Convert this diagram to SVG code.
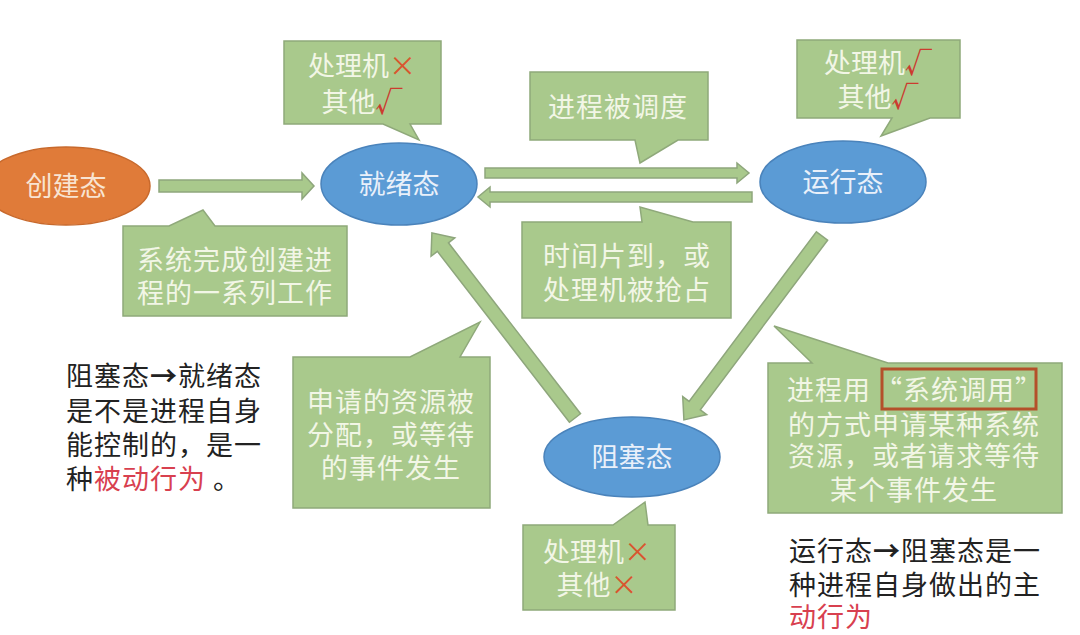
<svg xmlns="http://www.w3.org/2000/svg" width="1080" height="635" viewBox="0 0 1080 635">
<style>
  text { font-family: "Noto Sans CJK SC", "Noto Sans", sans-serif; }
  .box { fill: #a9c98c; stroke: #8fa97a; stroke-width: 1.5; }
  .arr { fill: #a9c98c; stroke: #8ea67c; stroke-width: 1.5; }
  .bt { fill: #f2f6e6; font-size: 27px; text-anchor: middle; }
  .st { fill: #e9f0fa; font-size: 27px; text-anchor: middle; }
  .blk { fill: #222222; font-size: 27px; }
  .red { fill: #cc3b2f; font-weight: bold; }
  .x { fill: #d9552e; }
  .pink { fill: #d8404f; }
</style>
<rect width="1080" height="635" fill="#ffffff"/>

<g id="connectors">
  <polygon class="arr" points="159,180 302,180 302,173 314,186 302,199 302,192 159,192"/>
  <polygon class="arr" points="485,168 737,168 737,163 749,173 737,183 737,178 485,178"/>
  <polygon class="arr" points="752,192 490,192 490,187 478,197 490,207 490,202 752,202"/>
  <g transform="translate(822,236) rotate(126.9)">
    <polygon class="arr" points="0,-7 212,-7 212,-15 230,0 212,15 212,7 0,7"/>
  </g>
  <g transform="translate(575,418) rotate(-127.7)">
    <polygon class="arr" points="0,-7 216,-7 216,-15 234,0 216,15 216,7 0,7"/>
  </g>
</g>

<g id="create">
  <ellipse cx="66" cy="186" rx="84" ry="39" fill="#e07b39" stroke="#c8692c" stroke-width="1.5"/>
  <text x="66" y="196" class="st" style="fill:#f8e4d2">创建态</text>
</g>
<g id="ready">
  <ellipse cx="399" cy="184" rx="78" ry="41" fill="#5b9bd5" stroke="#4a83bb" stroke-width="1.5"/>
  <text x="399" y="194" class="st">就绪态</text>
</g>
<g id="running">
  <ellipse cx="843" cy="182" rx="83" ry="41" fill="#5b9bd5" stroke="#4a83bb" stroke-width="1.5"/>
  <text x="843" y="192" class="st">运行态</text>
</g>
<g id="blocked">
  <ellipse cx="632" cy="457" rx="88" ry="40" fill="#5b9bd5" stroke="#4a83bb" stroke-width="1.5"/>
  <text x="632" y="467" class="st">阻塞态</text>
</g>

<g id="note-ready">
  <path class="box" d="M284,41 H441 V124 H410 L419,140 L383,124 H284 Z"/>
  <text x="362" y="76" class="bt">处理机<tspan class="x">×</tspan></text>
  <text x="362" y="112" class="bt">其他<tspan class="red">√</tspan></text>
</g>
<g id="note-create">
  <path class="box" d="M123,226 H169 L203,210 L215,226 H347 V316 H123 Z"/>
  <text x="235" y="270" class="bt" letter-spacing="1">系统完成创建进</text>
  <text x="235" y="303" class="bt" letter-spacing="1">程的一系列工作</text>
</g>
<g id="note-dispatch">
  <path class="box" d="M530,72 H708 V140 H678 L640,163 L635,140 H530 Z"/>
  <text x="618" y="117" class="bt" letter-spacing="1">进程被调度</text>
</g>
<g id="note-timeout">
  <path class="box" d="M522,222 H642 L640,207 L693,222 H731 V318 H522 Z"/>
  <text x="627" y="266" class="bt" letter-spacing="1">时间片到，或</text>
  <text x="627" y="300" class="bt" letter-spacing="1">处理机被抢占</text>
</g>
<g id="note-running">
  <path class="box" d="M797,40 H960 V118 H930 L881,136 L892,118 H797 Z"/>
  <text x="878" y="73" class="bt">处理机<tspan class="red">√</tspan></text>
  <text x="878" y="107" class="bt">其他<tspan class="red">√</tspan></text>
</g>
<g id="note-wakeup">
  <path class="box" d="M293,357 H410 L480,322 L460,357 H490 V508 H293 Z"/>
  <text x="391" y="412" class="bt" letter-spacing="1">申请的资源被</text>
  <text x="391" y="445" class="bt" letter-spacing="1">分配，或等待</text>
  <text x="391" y="478" class="bt" letter-spacing="1">的事件发生</text>
</g>
<g id="note-block">
  <path class="box" d="M768,363 H812 L774,326 L888,363 H1062 V513 H768 Z"/>
  <rect x="882" y="369" width="154" height="40" fill="none" stroke="#b4502a" stroke-width="3"/>
  <text x="787" y="400" class="bt" style="text-anchor:start" letter-spacing="1">进程用</text>
  <text x="959" y="400" class="bt" letter-spacing="1">“系统调用”</text>
  <text x="914" y="435" class="bt" letter-spacing="1">的方式申请某种系统</text>
  <text x="914" y="466" class="bt" letter-spacing="1">资源，或者请求等待</text>
  <text x="914" y="500" class="bt" letter-spacing="1">某个事件发生</text>
</g>
<g id="note-blocked">
  <path class="box" d="M523,525 H613 L645,502 L648,525 H675 V610 H523 Z"/>
  <text x="597" y="562" class="bt">处理机<tspan class="x">×</tspan></text>
  <text x="597" y="595" class="bt">其他<tspan class="x">×</tspan></text>
</g>

<g id="text-left">
  <text x="66" y="386" class="blk" letter-spacing="1">阻塞态<tspan font-weight="bold">→</tspan>就绪态</text>
  <text x="66" y="421" class="blk" letter-spacing="1">是不是进程自身</text>
  <text x="66" y="455" class="blk" letter-spacing="1">能控制的，是一</text>
  <text x="66" y="489" class="blk" letter-spacing="1">种<tspan class="pink">被动行为</tspan> 。</text>
</g>
<g id="text-right">
  <text x="789" y="561" class="blk" letter-spacing="1">运行态<tspan font-weight="bold">→</tspan>阻塞态是一</text>
  <text x="789" y="595" class="blk" letter-spacing="1">种进程自身做出的主</text>
  <text x="789" y="627" class="blk pink" letter-spacing="1">动行为</text>
</g>
</svg>
